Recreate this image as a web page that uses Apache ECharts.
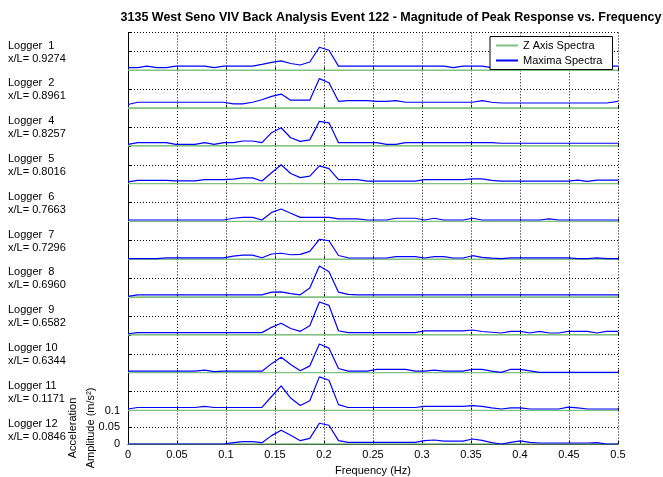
<!DOCTYPE html>
<html><head><meta charset="utf-8">
<script src="https://cdn.jsdelivr.net/npm/echarts@6/dist/echarts.min.js"></script>
<style>html,body{margin:0;padding:0;background:#fff}#c{width:663px;height:477px}</style>
</head><body><div id="c"></div>
<script>
// ---- data ----
const frequencyHz = [0, 0.0098, 0.0195, 0.0293, 0.0391, 0.0488, 0.0586, 0.0684, 0.0781, 0.0879,
  0.0977, 0.1074, 0.1172, 0.1270, 0.1367, 0.1465, 0.1563, 0.1660, 0.1758, 0.1855,
  0.1953, 0.2051, 0.2148, 0.2246, 0.2344, 0.2441, 0.2539, 0.2637, 0.2734, 0.2832,
  0.2930, 0.3027, 0.3125, 0.3223, 0.3320, 0.3418, 0.3516, 0.3613, 0.3711, 0.3809,
  0.3906, 0.4004, 0.4102, 0.4199, 0.4297, 0.4395, 0.4492, 0.4590, 0.4688, 0.4785,
  0.4883, 0.5000];

const loggerNames = ['Logger  1', 'Logger  2', 'Logger  4', 'Logger  5', 'Logger  6', 'Logger  7',
  'Logger  8', 'Logger  9', 'Logger 10', 'Logger 11', 'Logger 12'];
const xOverL = ['0.9274', '0.8961', '0.8257', '0.8016', '0.7663', '0.7296',
  '0.6960', '0.6582', '0.6344', '0.1171', '0.0846'];

const xTicks = [0, 0.05, 0.1, 0.15, 0.2, 0.25, 0.3, 0.35, 0.4, 0.45, 0.5];
const yTicks = [0, 0.05, 0.1];

const zAxisSpectra = [0,0,0,0,0,0,0,0,0,0, 0,0,0,0,0,0,0,0,0,0, 0,0,0,0,0,0,0,0,0,0,
  0,0,0,0,0,0,0,0,0,0, 0,0,0,0,0,0,0,0,0,0, 0,0];

const maximaLogger1 = [0.007,0.007,0.011,0.007,0.007,0.011,0.011,0.011,0.011,0.007,
  0.011,0.011,0.011,0.011,0.0155,0.021,0.025,0.018,0.014,0.022,
  0.061,0.053,0.011,0.011,0.011,0.011,0.011,0.011,0.011,0.011,
  0.011,0.011,0.011,0.011,0.007,0.011,0.011,0.011,0.007,0.011,
  0.011,0.011,0.011,0.011,0.011,0.011,0.011,0.011,0.011,0.011,
  0.011,0.011];
const maximaLogger2 = [0.0095,0.0155,0.0155,0.0155,0.0155,0.0155,0.0155,0.0155,0.0155,0.0155,
  0.0155,0.011,0.011,0.0155,0.022,0.031,0.037,0.021,0.021,0.021,
  0.078,0.067,0.018,0.02,0.02,0.02,0.018,0.018,0.02,0.0155,
  0.0155,0.0155,0.0155,0.0155,0.0155,0.0155,0.0155,0.02,0.0155,0.0135,
  0.0135,0.0135,0.0135,0.0135,0.0135,0.0135,0.0135,0.0135,0.0135,0.0135,
  0.0135,0.018];
const maximaLogger4 = [0.004,0.0086,0.0086,0.0086,0.0086,0.004,0.004,0.004,0.0086,0.004,
  0.0086,0.0086,0.013,0.013,0.0086,0.035,0.048,0.0215,0.012,0.016,
  0.065,0.061,0.0086,0.0086,0.0086,0.0086,0.0086,0.004,0.004,0.0086,
  0.0086,0.0086,0.0086,0.0086,0.0086,0.0086,0.0086,0.0086,0.0086,0.007,
  0.007,0.007,0.007,0.007,0.007,0.007,0.007,0.007,0.007,0.007,
  0.007,0.007];
const maximaLogger5 = [0.005,0.0086,0.0086,0.0086,0.0086,0.0075,0.0075,0.0075,0.011,0.011,
  0.011,0.012,0.0155,0.0155,0.007,0.029,0.05,0.027,0.016,0.02,
  0.047,0.04,0.011,0.011,0.011,0.007,0.007,0.007,0.007,0.007,
  0.007,0.011,0.011,0.011,0.011,0.011,0.013,0.013,0.009,0.007,
  0.007,0.007,0.007,0.007,0.007,0.007,0.007,0.0095,0.006,0.0095,
  0.0095,0.0095];
const maximaLogger6 = [0.004,0.004,0.004,0.004,0.004,0.004,0.004,0.004,0.004,0.004,
  0.004,0.0086,0.011,0.011,0.004,0.024,0.033,0.022,0.011,0.011,
  0.011,0.011,0.007,0.007,0.007,0.004,0.004,0.004,0.0086,0.0086,
  0.0086,0.004,0.0086,0.004,0.004,0.004,0.0086,0.004,0.004,0.004,
  0.004,0.004,0.004,0.004,0.007,0.004,0.004,0.004,0.004,0.004,
  0.004,0.004];
const maximaLogger7 = [0.002,0.002,0.002,0.002,0.004,0.004,0.004,0.004,0.004,0.004,
  0.004,0.0086,0.011,0.011,0.004,0.014,0.016,0.012,0.013,0.021,
  0.053,0.049,0.01,0.004,0.0035,0.0035,0.0035,0.0035,0.007,0.007,
  0.007,0.0035,0.007,0.007,0.0035,0.0035,0.0095,0.005,0.003,0.002,
  0.004,0.004,0.004,0.004,0.004,0.004,0.004,0.002,0.002,0.004,
  0.002,0.002];
const maximaLogger8 = [0.002,0.006,0.006,0.006,0.006,0.006,0.006,0.006,0.006,0.006,
  0.006,0.006,0.006,0.006,0.006,0.013,0.014,0.009,0.006,0.024,
  0.082,0.067,0.013,0.007,0.006,0.006,0.006,0.006,0.006,0.006,
  0.006,0.006,0.006,0.006,0.006,0.006,0.006,0.006,0.006,0.006,
  0.006,0.006,0.006,0.006,0.006,0.006,0.006,0.006,0.006,0.006,
  0.006,0.006];
const maximaLogger9 = [0.003,0.006,0.006,0.006,0.006,0.006,0.006,0.006,0.006,0.006,
  0.006,0.006,0.006,0.006,0.006,0.02,0.031,0.017,0.0095,0.024,
  0.087,0.078,0.011,0.006,0.006,0.006,0.006,0.006,0.006,0.006,
  0.006,0.0105,0.0105,0.0105,0.0105,0.0105,0.013,0.009,0.007,0.005,
  0.0095,0.0095,0.005,0.0095,0.005,0.005,0.0095,0.0095,0.0095,0.005,
  0.0095,0.0095];
const maximaLogger10 = [0.004,0.004,0.004,0.004,0.004,0.004,0.004,0.004,0.007,0.003,
  0.004,0.004,0.004,0.004,0.004,0.024,0.041,0.0215,0.005,0.018,
  0.076,0.065,0.011,0.004,0.004,0.004,0.0086,0.0086,0.0086,0.0086,
  0.004,0.004,0.007,0.004,0.004,0.004,0.0086,0.0086,0.004,0.001,
  0.009,0.009,0.005,0.001,0.001,0.001,0.001,0.001,0.001,0.001,
  0.001,0.001];
const maximaLogger11 = [0.004,0.008,0.008,0.008,0.008,0.008,0.008,0.008,0.011,0.008,
  0.008,0.008,0.008,0.008,0.008,0.037,0.065,0.033,0.013,0.026,
  0.089,0.08,0.0155,0.008,0.008,0.008,0.008,0.008,0.008,0.008,
  0.008,0.011,0.011,0.011,0.011,0.011,0.013,0.011,0.007,0.004,
  0.007,0.007,0.004,0.004,0.004,0.004,0.009,0.007,0.004,0.004,
  0.004,0.004];
const maximaLogger12 = [0,0,0,0,0,0,0,0,0,0,
  0,0.004,0.007,0.007,0.004,0.025,0.041,0.026,0.01,0.017,
  0.062,0.056,0.01,0.005,0.005,0.005,0.005,0.005,0.005,0.005,
  0.005,0.01,0.012,0.0086,0.0086,0.0086,0.015,0.011,0.004,0,
  0.005,0.0095,0.005,0.003,0.003,0.003,0.003,0.003,0.003,0.004,
  0,0];

const maximaSpectra = [maximaLogger1, maximaLogger2, maximaLogger4, maximaLogger5, maximaLogger6,
  maximaLogger7, maximaLogger8, maximaLogger9, maximaLogger10, maximaLogger11, maximaLogger12];

// ---- layout / style ----
const FONT = '"Liberation Sans", Arial, sans-serif';
const GRID_LEFT = 128, GRID_WIDTH = 490, GRID_TOP = 32.5, PANEL_H = 37.8;
const GREEN = '#80c080', BLUE = '#0000ff';
const dotted = { color: '#000', width: 1, type: [1, 2] };

const n = loggerNames.length;
const grids = [], xAxes = [], yAxes = [], series = [], graphics = [];
for (let i = 0; i < n; i++) {
  const last = i === n - 1;
  const top = GRID_TOP + i * PANEL_H;
  grids.push({ left: GRID_LEFT, width: GRID_WIDTH, top: top, height: PANEL_H });
  xAxes.push({
    gridIndex: i, type: 'value', min: xTicks[0], max: xTicks[xTicks.length - 1],
    interval: xTicks[1] - xTicks[0],
    axisLine: { show: last, onZero: false, lineStyle: { color: '#000', width: 1 } },
    axisTick: { show: true, inside: true, length: 3, lineStyle: { color: '#000' } },
    axisLabel: { show: last, color: '#000', fontFamily: FONT, fontSize: 11, margin: 5 },
    splitLine: { show: true, lineStyle: dotted },
    name: last ? 'Frequency (Hz)' : '', nameLocation: 'middle', nameGap: 21,
    nameTextStyle: { color: '#000', fontFamily: FONT, fontSize: 11 }
  });
  yAxes.push({
    gridIndex: i, type: 'value', min: yTicks[0], max: yTicks[yTicks.length - 1],
    interval: yTicks[1] - yTicks[0],
    axisLine: { show: true, lineStyle: { color: '#000', width: 1 } },
    axisTick: { show: true, inside: true, length: 3, lineStyle: { color: '#000' } },
    axisLabel: { show: last, color: '#000', fontFamily: FONT, fontSize: 11, margin: 8 },
    splitLine: { show: true, showMinLine: false, showMaxLine: i === 0, lineStyle: dotted }
  });
  series.push({
    name: 'Z Axis Spectra', type: 'line', xAxisIndex: i, yAxisIndex: i,
    data: frequencyHz.map((f, k) => [f, zAxisSpectra[k]]),
    showSymbol: false, symbol: 'none', silent: true,
    lineStyle: { color: GREEN, width: 1.6 }, itemStyle: { color: GREEN }, z: 2
  });
  series.push({
    name: 'Maxima Spectra', type: 'line', xAxisIndex: i, yAxisIndex: i,
    data: frequencyHz.map((f, k) => [f, maximaSpectra[i][k]]),
    showSymbol: false, symbol: 'none', silent: true,
    lineStyle: { color: BLUE, width: 1.2 }, itemStyle: { color: BLUE }, z: 3
  });
  graphics.push({
    type: 'text', left: 8, top: top + 7.5,
    style: { text: loggerNames[i], fill: '#000', font: '11px ' + FONT }
  });
  graphics.push({
    type: 'text', left: 8, top: top + 20.5,
    style: { text: 'x/L= ' + xOverL[i], fill: '#000', font: '11px ' + FONT }
  });
}

graphics.push({
  type: 'text', x: 391, y: 18,
  style: { text: '3135 West Seno VIV Back Analysis Event 122 - Magnitude of Peak Response vs. Frequency',
    fill: '#000', font: 'bold 12.5px ' + FONT, textAlign: 'center', textVerticalAlign: 'middle' }
});
graphics.push({
  type: 'text', x: 82, y: 428, rotation: Math.PI / 2,
  style: { text: 'Acceleration\nAmplitude (m/s²)', fill: '#000', font: '11px ' + FONT,
    textAlign: 'center', textVerticalAlign: 'middle', lineHeight: 18 }
});

const chart = echarts.init(document.getElementById('c'), null, { renderer: 'canvas' });
chart.setOption({
  animation: false,
  backgroundColor: '#fff',
  grid: grids, xAxis: xAxes, yAxis: yAxes, series: series,
  legend: {
    data: ['Z Axis Spectra', 'Maxima Spectra'],
    orient: 'vertical', left: 490, top: 36.5,
    backgroundColor: '#fff', borderColor: '#000', borderWidth: 1,
    padding: [3, 10, 3, 6], itemGap: 3, itemWidth: 22, itemHeight: 2, icon: 'rect',
    textStyle: { color: '#000', fontFamily: FONT, fontSize: 11, lineHeight: 12 },
    z: 10
  },
  graphic: graphics
});
</script></body></html>
